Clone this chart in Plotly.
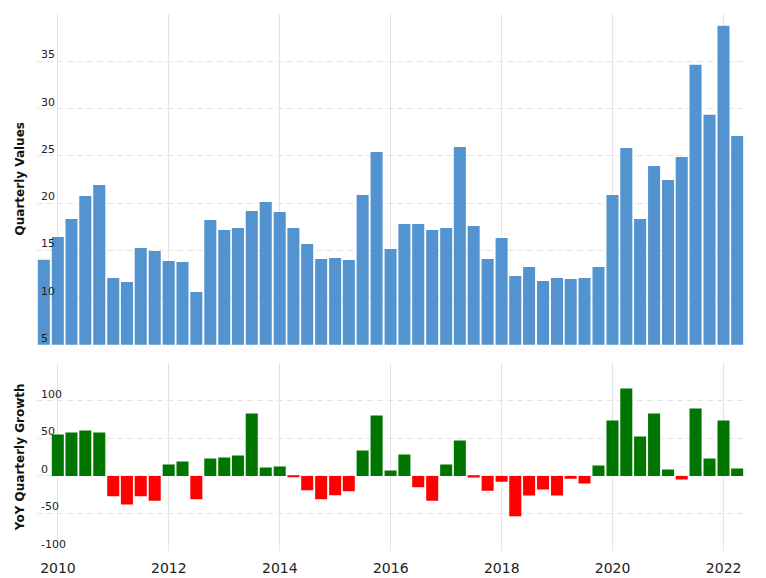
import pandas as pd
import plotly.graph_objects as go
from plotly.subplots import make_subplots

# Quarter-end dates, 2009 Q3 .. 2022 Q1
quarters = [d.strftime("%Y-%m-%d") for d in pd.date_range("2009-09-30", periods=51, freq="QE")]

quarterly_values = [
    14.0, 16.4, 18.3, 20.75, 21.9, 12.06, 11.64, 15.24, 14.92, 13.86,
    13.76, 10.58, 18.2, 17.15, 17.36, 19.16, 20.11, 19.05, 17.36, 15.66,
    14.07, 14.18, 13.97, 20.85, 25.41, 15.13, 17.78, 17.78, 17.15, 17.36,
    25.94, 17.57, 14.07, 16.3, 12.27, 13.23, 11.74, 12.06, 11.96, 12.06,
    13.23, 20.85, 25.83, 18.31, 23.93, 22.44, 24.88, 34.63, 29.33, 38.76,
    27.1,
]

yoy_growth = [
    None, 55.1, 57.8, 60.4, 57.8, -27.1, -38.2, -27.1, -32.9, 15.1,
    19.1, -31.1, 23.1, 24.4, 27.1, 83.1, 11.1, 12.4, -1.0, -19.1,
    -31.1, -25.8, -20.4, 33.8, 80.4, 7.1, 28.4, -15.1, -32.9, 15.1,
    47.1, -2.2, -19.6, -7.6, -53.8, -26.2, -18.2, -26.2, -3.6, -10.2,
    13.8, 73.8, 116.4, 52.4, 83.1, 8.4, -4.9, 89.8, 23.1, 73.8,
    9.8,
]

year_ticks = ["2010-01-01", "2012-01-01", "2014-01-01", "2016-01-01",
              "2018-01-01", "2020-01-01", "2022-01-01"]
year_labels = ["2010", "2012", "2014", "2016", "2018", "2020", "2022"]
top_ticks = [5, 10, 15, 20, 25, 30, 35]
bottom_ticks = [-100, -50, 0, 50, 100]

BLUE = "#5393d0"
GREEN = "#007500"
RED = "#ff0000"
GRID = "#e4e4e4"
FONT = "DejaVu Sans, Verdana, sans-serif"

growth_colors = [GREEN if (v is not None and v >= 0) else RED for v in yoy_growth]

fig = make_subplots(rows=2, cols=1, shared_xaxes=True, vertical_spacing=0.03)

fig.add_trace(go.Bar(x=quarters, y=quarterly_values, marker=dict(color=BLUE, line=dict(width=0)),
                     showlegend=False), row=1, col=1)
fig.add_trace(go.Bar(x=quarters, y=yoy_growth, marker=dict(color=growth_colors, line=dict(width=0)),
                     showlegend=False), row=2, col=1)

xr = ["2009-08-16", "2022-05-15"]
common_x = dict(type="date", range=xr, showgrid=True, gridcolor=GRID, gridwidth=1,
                tickmode="array", tickvals=year_ticks, ticktext=year_labels,
                showline=False, zeroline=False)
fig.update_xaxes(**common_x)
fig.update_xaxes(showticklabels=False, ticks="", row=1, col=1)
fig.update_xaxes(showticklabels=True, tickfont=dict(family=FONT, size=14, color="#222"),
                 ticks="outside", ticklen=4, tickcolor="rgba(0,0,0,0)", automargin=False,
                 row=2, col=1)

fig.update_yaxes(range=[5, 40], tickvals=top_ticks, showticklabels=False,
                 showgrid=True, gridcolor=GRID, griddash="6px,4px", zeroline=False,
                 showline=False, ticks="", row=1, col=1)
fig.update_yaxes(range=[-100, 150], tickvals=bottom_ticks, showticklabels=False,
                 showgrid=True, gridcolor=GRID, griddash="6px,4px", zeroline=False,
                 showline=False, ticks="", row=2, col=1)

annotations = [
    dict(text="<b>Quarterly Values</b>", textangle=-90, xref="paper", yref="paper",
         x=-17 / 707, y=(0.384 + 1.0) / 2, xanchor="center", yanchor="middle",
         showarrow=False, font=dict(family=FONT, size=12, color="#111")),
    dict(text="<b>YoY Quarterly Growth</b>", textangle=-90, xref="paper", yref="paper",
         x=-17 / 707, y=0.3495 / 2, xanchor="center", yanchor="middle",
         showarrow=False, font=dict(family=FONT, size=12, color="#111")),
]
for v in top_ticks:
    annotations.append(dict(text=str(v), xref="x domain", yref="y", x=0, y=v,
                            xanchor="left", yanchor="bottom", xshift=2, yshift=-2,
                            showarrow=False, font=dict(family=FONT, size=11, color="#222")))
for v in bottom_ticks:
    annotations.append(dict(text=str(v), xref="x2 domain", yref="y2", x=0, y=v,
                            xanchor="left", yanchor="bottom", xshift=2, yshift=-2,
                            showarrow=False, font=dict(family=FONT, size=11, color="#222")))

fig.update_layout(
    width=766, height=578,
    margin=dict(l=37, r=22, t=14, b=27),
    paper_bgcolor="white", plot_bgcolor="white",
    bargap=0.12,
    font=dict(family=FONT),
    yaxis=dict(domain=[0.384, 1.0]),
    yaxis2=dict(domain=[0.0, 0.3495]),
    xaxis2=dict(range=xr),
    annotations=annotations,
)

fig.write_html("out.html")
